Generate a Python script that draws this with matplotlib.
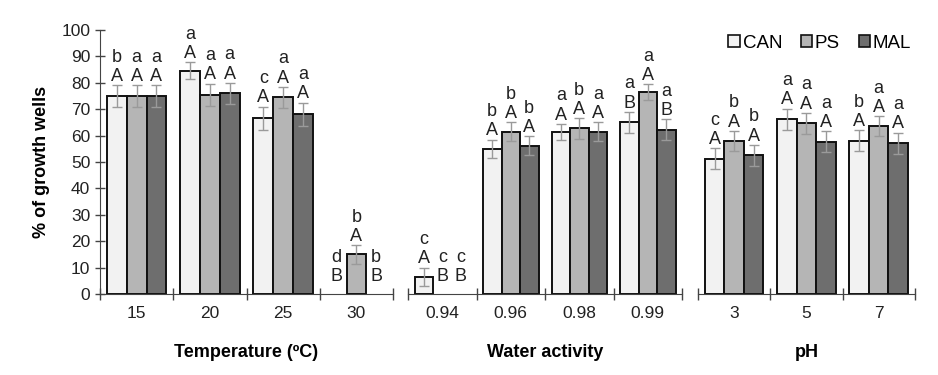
import matplotlib.pyplot as plt
from matplotlib.patches import Patch

plt.rcParams['font.family'] = ['Liberation Sans', 'DejaVu Sans']

# temperature panel
temp_labels = ['15', '20', '25', '30']
temp_can = [75, 84.5, 66.5, 0]
temp_ps = [75, 75.5, 74.5, 15]
temp_mal = [75, 76, 68, 0]
temp_can_err = [4, 3.2, 4.5, 0]
temp_ps_err = [4, 4.2, 4, 3.5]
temp_mal_err = [4, 4, 4.5, 0]
temp_can_let = [('b', 'A'), ('a', 'A'), ('c', 'A'), ('d', 'B')]
temp_ps_let = [('a', 'A'), ('a', 'A'), ('a', 'A'), ('b', 'A')]
temp_mal_let = [('a', 'A'), ('a', 'A'), ('a', 'A'), ('b', 'B')]

# water activity panel
aw_labels = ['0.94', '0.96', '0.98', '0.99']
aw_can = [6.5, 55, 61.5, 65]
aw_ps = [0, 61.5, 62.7, 76.5]
aw_mal = [0, 56.2, 61.5, 62.2]
aw_can_err = [3.5, 3.5, 3, 4]
aw_ps_err = [0, 3.5, 3.8, 3]
aw_mal_err = [0, 3.5, 3.5, 4]
aw_can_let = [('c', 'A'), ('b', 'A'), ('a', 'A'), ('a', 'B')]
aw_ps_let = [('c', 'B'), ('b', 'A'), ('b', 'A'), ('a', 'A')]
aw_mal_let = [('c', 'B'), ('b', 'A'), ('a', 'A'), ('a', 'B')]

# pH panel
ph_labels = ['3', '5', '7']
ph_can = [51.3, 66.2, 58]
ph_ps = [58, 64.6, 63.6]
ph_mal = [52.5, 57.7, 57.1]
ph_can_err = [3.9, 4, 4]
ph_ps_err = [3.8, 4, 3.8]
ph_mal_err = [4, 4, 4]
ph_can_let = [('c', 'A'), ('a', 'A'), ('b', 'A')]
ph_ps_let = [('b', 'A'), ('a', 'A'), ('a', 'A')]
ph_mal_let = [('b', 'A'), ('a', 'A'), ('a', 'A')]

colors = ['#f2f2f2', '#b5b5b5', '#6e6e6e']
names = ['CAN', 'PS', 'MAL']

fig = plt.figure(figsize=(9.38, 3.75), dpi=100)

panels = [
    ([0.1066, 0.216, 0.3124, 0.704], temp_labels, [temp_can, temp_ps, temp_mal],
     [temp_can_err, temp_ps_err, temp_mal_err], [temp_can_let, temp_ps_let, temp_mal_let],
     'Temperature (ºC)'),
    ([0.435, 0.216, 0.2921, 0.704], aw_labels, [aw_can, aw_ps, aw_mal],
     [aw_can_err, aw_ps_err, aw_mal_err], [aw_can_let, aw_ps_let, aw_mal_let],
     'Water activity'),
    ([0.744, 0.216, 0.2313, 0.704], ph_labels, [ph_can, ph_ps, ph_mal],
     [ph_can_err, ph_ps_err, ph_mal_err], [ph_can_let, ph_ps_let, ph_mal_let],
     'pH'),
]

w = 0.27
for i, (pos, labels, series, errs, lets, title) in enumerate(panels):
    ax = fig.add_axes(pos)
    n = len(labels)
    for k in range(3):
        xs = [j + (k - 1) * w for j in range(n)]
        bars = ax.bar(xs, series[k], width=w, color=colors[k], edgecolor='#111111',
                      linewidth=1.4, zorder=2)
        for j in range(n):
            v = series[k][j]
            e = errs[k][j]
            if v > 0:
                ax.errorbar(xs[j], v, yerr=e, fmt='none', ecolor='#9a9a9a',
                            elinewidth=1, capsize=3.5, capthick=1, zorder=3)
                top = v + e
            else:
                bars[j].set_linewidth(0)
                top = 3.3
            ax.text(xs[j], top + 3.3, lets[k][j][1], ha='center', va='center',
                    fontsize=13, color='#222222')
            ax.text(xs[j], top + 10.6, lets[k][j][0], ha='center', va='center',
                    fontsize=13, color='#222222')
    ax.set_xlim(-0.5, n - 0.5)
    ax.set_ylim(0, 100)
    ax.set_xticks(range(n))
    ax.set_xticklabels(labels, fontsize=12.5, color='#222222')
    ax.set_xticks([j - 0.5 for j in range(n + 1)], minor=True)
    ax.tick_params(axis='x', which='major', length=0, pad=9)
    ax.tick_params(axis='x', which='minor', length=9, direction='inout',
                   width=1, color='#444444')
    ax.spines['top'].set_visible(False)
    ax.spines['right'].set_visible(False)
    ax.spines['bottom'].set_color('#444444')
    ax.set_xlabel(title, fontsize=13, fontweight='bold', labelpad=16)
    if i == 0:
        ax.set_yticks(range(0, 101, 10))
        ax.tick_params(axis='y', length=7, direction='inout', width=1,
                       color='#444444', labelsize=12.5, labelcolor='#222222')
        ax.spines['left'].set_color('#444444')
        ax.set_ylabel('% of growth wells', fontsize=13, fontweight='bold', labelpad=8)
    else:
        ax.spines['left'].set_visible(False)
        ax.set_yticks([])

handles = [Patch(facecolor=colors[k], edgecolor='#111111', linewidth=1.2) for k in range(3)]
fig.legend(handles, names, loc='center', bbox_to_anchor=(0.874, 0.885), ncol=3,
           frameon=False, fontsize=13.5, handlelength=0.6, handleheight=0.6,
           handletextpad=0.15, columnspacing=1.0)

fig.savefig('out.png', dpi=100)
